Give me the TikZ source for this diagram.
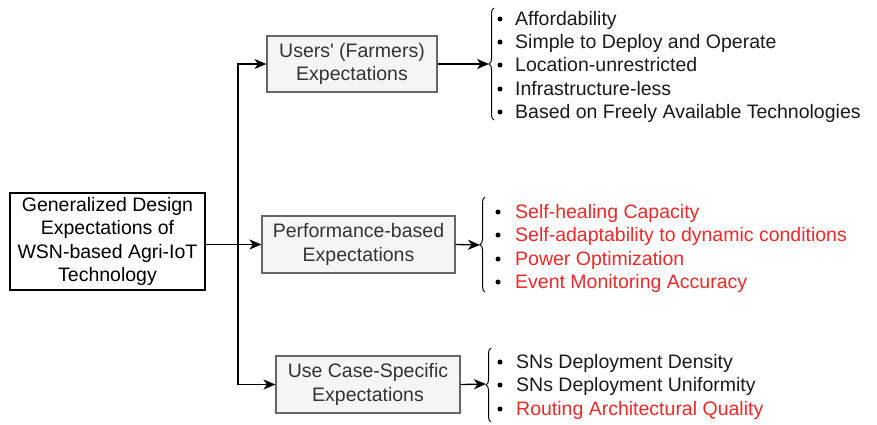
\documentclass[tikz,border=0pt]{standalone}
\usepackage{fontspec}
\setmainfont{Liberation Sans}
\usetikzlibrary{arrows.meta,decorations.pathreplacing}
\definecolor{boxfill}{HTML}{F5F5F5}
\definecolor{boxline}{HTML}{666666}
\definecolor{boxtext}{HTML}{333333}
\definecolor{redtxt}{HTML}{F02828}
\definecolor{itemtxt}{HTML}{1A1A1A}
\tikzset{
  graybox/.style={draw=boxline, fill=boxfill, line width=1.1pt, text=boxtext, align=center, inner sep=0pt},
  mainbox/.style={draw=black, fill=white, line width=1.2pt, text=black, align=center, inner sep=0pt},
  arr/.style={draw=black, line width=1.3pt, -{Stealth[length=12pt,width=10pt,inset=3.5pt]}},
  bracestyle/.style={draw=black, line width=1pt, decorate, decoration={brace, amplitude=5pt, aspect=0.5}},
  itemnode/.style={anchor=base west, inner sep=0pt, text=itemtxt},
  reditem/.style={itemnode, text=redtxt},
  dot/.style={circle, fill=black, inner sep=0pt, minimum size=5pt}
}
\begin{document}
\begin{tikzpicture}[x=1pt,y=-1pt, font=\fontsize{19.5}{23.2}\selectfont]
\useasboundingbox (0,0) rectangle (877,424);
% boxes
\node[mainbox, minimum width=195pt, minimum height=97pt] (main) at (107.5,241.5)
  {Generalized Design\\Expectations of\\WSN-based Agri-IoT\\Technology};
\node[graybox, minimum width=170pt, minimum height=56pt] (users) at (352,64)
  {Users\textquotesingle{} (Farmers)\\Expectations};
\node[graybox, minimum width=193pt, minimum height=57pt] (perf) at (358.5,244.5)
  {Performance-based\\Expectations};
\node[graybox, minimum width=184pt, minimum height=57pt] (usecase) at (368,384.5)
  {Use Case-Specific\\Expectations};
% junction
\coordinate (j) at (238,244.5);
\draw[arr] (main.east |- perf.west) -- (perf.west);
\draw[arr] (j) |- (users.west);
\draw[arr] (j) |- (usecase.west);
% braces
\coordinate (b1) at (489,64);
\coordinate (b2) at (480,245);
\coordinate (b3) at (486,384);
\draw[bracestyle] (494,120) -- (494,8);
\draw[bracestyle] (485,292) -- (485,197);
\draw[bracestyle] (491,422) -- (491,348);
\draw[arr] (users.east) -- (b1);
\draw[arr] (perf.east) -- (b2);
\draw[arr] (usecase.east) -- (b3);
% top list
\foreach \y/\t [count=\i] in {18/Affordability, 41/Simple to Deploy and Operate, 64/Location-unrestricted, 88/Infrastructure-less, 111/Based on Freely Available Technologies}{
  \node[dot] (d1\i) at (500,\y+1) {};
  \node[itemnode] (t1\i) at (515,\y+7) {\t};
}
% middle list
\foreach \y/\t [count=\i] in {211/Self-healing Capacity, 234/Self-adaptability to dynamic conditions, 258/Power Optimization, 281/Event Monitoring Accuracy}{
  \node[dot] (d2\i) at (498,\y+1) {};
  \node[reditem] (t2\i) at (515,\y+7) {\t};
}
% bottom list
\node[dot] (d31) at (500,362) {};
\node[itemnode] (t31) at (516,368) {SNs Deployment Density};
\node[dot] (d32) at (500,385) {};
\node[itemnode] (t32) at (516,391) {SNs Deployment Uniformity};
\node[dot] (d33) at (500,409) {};
\node[reditem] (t33) at (516,415) {Routing Architectural Quality};
\end{tikzpicture}
\end{document}
